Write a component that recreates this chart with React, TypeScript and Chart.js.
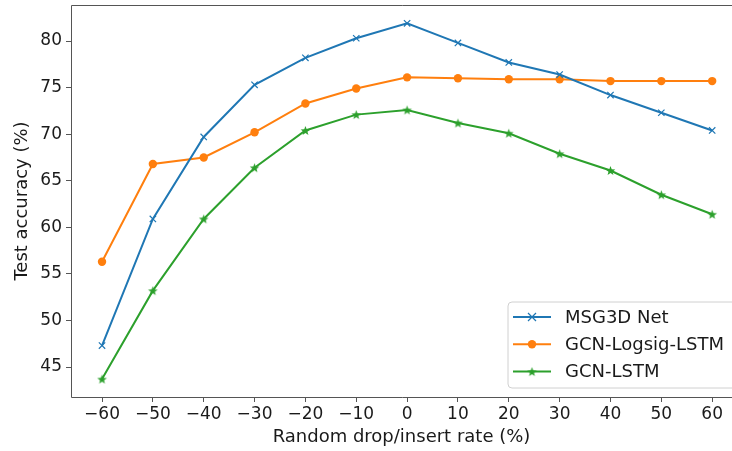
import React, { useEffect, useRef } from 'react';
import { Chart, registerables } from 'chart.js';
Chart.register(...registerables);

const rates = [-60, -50, -40, -30, -20, -10, 0, 10, 20, 30, 40, 50, 60];
const msg3d = [47.3, 60.9, 69.7, 75.3, 78.2, 80.3, 81.9, 79.8, 77.7, 76.4, 74.2, 72.3, 70.4];
const logsigLstm = [56.3, 66.8, 67.5, 70.2, 73.3, 74.9, 76.1, 76.0, 75.9, 75.9, 75.7, 75.7, 75.7];
const gcnLstm = [43.7, 53.2, 60.9, 66.4, 70.4, 72.1, 72.6, 71.2, 70.1, 67.9, 66.1, 63.5, 61.4];
const yTicks = [45, 50, 55, 60, 65, 70, 75, 80];
const xTicks = rates;
const seriesLabels = ['MSG3D Net', 'GCN-Logsig-LSTM', 'GCN-LSTM'];
const xTitle = 'Random drop/insert rate (%)';
const yTitle = 'Test accuracy (%)';

const BLUE = '#1f77b4';
const ORANGE = '#ff7f0e';
const GREEN = '#2ca02c';
const FONT = "'DejaVu Sans', sans-serif";
const TEXT = '#1a1a1a';
const SPINE = '#555';

function makeStar(color: string, size: number) {
  const c = document.createElement('canvas');
  c.width = size;
  c.height = size;
  const ctx = c.getContext('2d')!;
  const cx = size / 2, cy = size / 2 + 0.5;
  const R = size / 2 - 0.5, r = R * 0.42;
  ctx.beginPath();
  for (let i = 0; i < 10; i++) {
    const ang = -Math.PI / 2 + (i * Math.PI) / 5;
    const rad = i % 2 === 0 ? R : r;
    const x = cx + rad * Math.cos(ang);
    const y = cy + rad * Math.sin(ang);
    if (i === 0) ctx.moveTo(x, y); else ctx.lineTo(x, y);
  }
  ctx.closePath();
  ctx.fillStyle = color;
  ctx.fill();
  return c;
}

const fmt = (v: number) => (v < 0 ? '\u2212' + Math.abs(v) : String(v));

export default function App() {
  const ref = useRef<HTMLCanvasElement>(null);
  useEffect(() => {
    const star = makeStar(GREEN, 11);
    const frame = {
      id: 'frame',
      afterDraw(chart: any) {
        const { ctx, chartArea: a } = chart;
        ctx.save();
        ctx.strokeStyle = SPINE;
        ctx.lineWidth = 1;
        ctx.beginPath();
        ctx.moveTo(a.right + 5, a.top + 0.5);
        ctx.lineTo(a.left + 0.5, a.top + 0.5);
        ctx.lineTo(a.left + 0.5, a.bottom + 0.5);
        ctx.lineTo(a.right + 5, a.bottom + 0.5);
        ctx.stroke();
        // legend
        const bx = a.right - 224, by = a.bottom - 95, bw = 240, bh = 86;
        ctx.beginPath();
        const rr = 4;
        ctx.moveTo(bx + rr, by);
        ctx.lineTo(bx + bw, by);
        ctx.lineTo(bx + bw, by + bh);
        ctx.lineTo(bx + rr, by + bh);
        ctx.arcTo(bx, by + bh, bx, by + bh - rr, rr);
        ctx.lineTo(bx, by + rr);
        ctx.arcTo(bx, by, bx + rr, by, rr);
        ctx.closePath();
        ctx.fillStyle = 'rgba(255,255,255,0.85)';
        ctx.fill();
        ctx.strokeStyle = '#d0d0d0';
        ctx.stroke();
        chart.data.datasets.forEach((ds: any, i: number) => {
          const y = by + 15 + i * 27.3;
          const x0 = bx + 5, x1 = bx + 43, xm = bx + 24;
          ctx.strokeStyle = ds.borderColor;
          ctx.lineWidth = 2;
          ctx.beginPath();
          ctx.moveTo(x0, y);
          ctx.lineTo(x1, y);
          ctx.stroke();
          if (ds.pointStyle === 'crossRot') {
            ctx.beginPath();
            ctx.lineWidth = 1.2;
            ctx.moveTo(xm - 4, y - 4); ctx.lineTo(xm + 4, y + 4);
            ctx.moveTo(xm + 4, y - 4); ctx.lineTo(xm - 4, y + 4);
            ctx.stroke();
          } else if (ds.pointStyle === 'circle') {
            ctx.beginPath();
            ctx.arc(xm, y, 4.2, 0, Math.PI * 2);
            ctx.fillStyle = ds.borderColor;
            ctx.fill();
          } else {
            ctx.drawImage(star, xm - star.width / 2, y - star.height / 2);
          }
          ctx.fillStyle = TEXT;
          ctx.font = `18px ${FONT}`;
          ctx.textBaseline = 'middle';
          ctx.textAlign = 'left';
          ctx.fillText(ds.label, bx + 57, y + 1);
        });
        ctx.restore();
      },
    };
    const mk = (vals: number[]) => rates.map((x, i) => ({ x, y: vals[i] }));
    const chart = new Chart(ref.current!, {
      type: 'line',
      data: {
        datasets: [
          { label: seriesLabels[0], data: mk(msg3d), borderColor: BLUE, backgroundColor: BLUE, borderWidth: 2, pointStyle: 'crossRot', pointRadius: 4.5, pointBorderWidth: 1.2, tension: 0 },
          { label: seriesLabels[1], data: mk(logsigLstm), borderColor: ORANGE, backgroundColor: ORANGE, borderWidth: 2, pointStyle: 'circle', pointRadius: 4.2, pointBorderWidth: 0, tension: 0 },
          { label: seriesLabels[2], data: mk(gcnLstm), borderColor: GREEN, backgroundColor: GREEN, borderWidth: 2, pointStyle: star as any, tension: 0 },
        ] as any,
      },
      options: {
        animation: false,
        responsive: false,
        maintainAspectRatio: false,
        layout: { autoPadding: false, padding: { top: 5, right: 0, left: 0, bottom: 0 } },
        plugins: { legend: { display: false }, tooltip: { enabled: false } },
        scales: {
          x: {
            type: 'linear',
            min: -66.1,
            max: 63.9,
            afterBuildTicks: (s: any) => { s.ticks = xTicks.map((v) => ({ value: v })); },
            afterFit: (s: any) => { s.height = 54; s.paddingLeft = 0; s.paddingRight = 0; },
            grid: { drawOnChartArea: false, drawTicks: true, tickLength: 5, color: SPINE, tickWidth: 1 },
            border: { display: false },
            ticks: { color: TEXT, font: { family: FONT, size: 17 }, padding: 2, maxRotation: 0, autoSkip: false, callback: (v: any) => fmt(Number(v)) },
            title: { display: true, text: xTitle, color: TEXT, font: { family: FONT, size: 18 }, padding: { top: 0, bottom: 3 } },
          },
          y: {
            type: 'linear',
            min: 41.78,
            max: 83.87,
            afterBuildTicks: (s: any) => { s.ticks = yTicks.map((v) => ({ value: v })); },
            afterFit: (s: any) => { s.width = 71; s.paddingTop = 0; s.paddingBottom = 0; },
            grid: { drawOnChartArea: false, drawTicks: true, tickLength: 5, color: SPINE, tickWidth: 1 },
            border: { display: false },
            ticks: { color: TEXT, font: { family: FONT, size: 17 }, padding: 4, callback: (v: any) => fmt(Number(v)) },
            title: { display: true, text: yTitle, color: TEXT, font: { family: FONT, size: 18 }, padding: { top: 12, bottom: 0 } },
          },
        },
      } as any,
      plugins: [frame],
    });
    return () => chart.destroy();
  }, []);
  return (
    <div style={{ position: 'absolute', left: 0, top: 0, width: 732, height: 451, background: '#fff' }}>
      <canvas ref={ref} width={732} height={451} style={{ display: 'block', width: 732, height: 451 }} />
    </div>
  );
}
